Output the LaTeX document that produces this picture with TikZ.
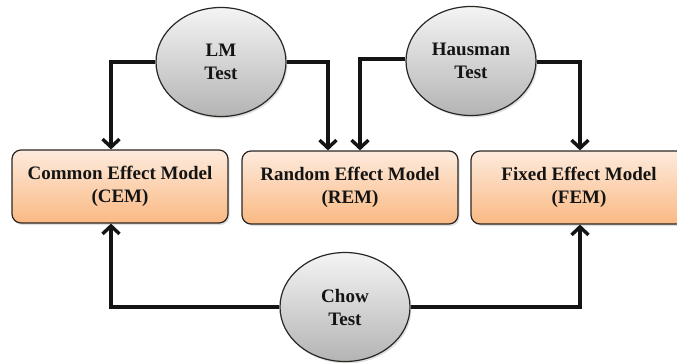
\documentclass[tikz,border=0pt]{standalone}
\usepackage{fontspec}
\setmainfont{Liberation Serif}
\usetikzlibrary{arrows.meta,shadows,shapes.geometric}

\definecolor{peachtop}{HTML}{FDEBDD}
\definecolor{peachbot}{HTML}{FAB983}
\definecolor{greytop}{HTML}{F4F4F4}
\definecolor{greybot}{HTML}{B4B4B4}
\definecolor{edge}{HTML}{2B2622}
\definecolor{ink}{HTML}{141414}

\tikzset{
  model/.style={rectangle, rounded corners=9pt, draw=edge, line width=1.2pt,
    top color=peachtop, bottom color=peachbot,
    minimum width=216pt, minimum height=73pt, inner sep=0pt,
    align=center, font=\bfseries\fontsize{19}{23}\selectfont, text=ink,
    drop shadow={shadow xshift=1.5pt, shadow yshift=-2pt, opacity=0.25}},
  testnode/.style={ellipse, draw=edge, line width=1.2pt,
    top color=greytop, bottom color=greybot,
    minimum width=130pt, minimum height=109pt, inner sep=0pt,
    align=center, font=\bfseries\fontsize{19}{23}\selectfont, text=ink,
    drop shadow={shadow xshift=1.5pt, shadow yshift=-2pt, opacity=0.25}},
  conn/.style={draw=ink, line width=3.4pt,
    -{Straight Barb[length=8pt,width=17pt]}}
}

\begin{document}
\begin{tikzpicture}[x=1pt,y=-1pt]
  \useasboundingbox (0,0) rectangle (677,362);

  % model boxes
  \node[model] (cem) at (120,186.5) {Common Effect Model\\(CEM)};
  \node[model] (rem) at (350,187.5) {Random Effect Model\\(REM)};
  \node[model] (fem) at (579,187.5) {Fixed Effect Model\\(FEM)};

  % tests
  \node[testnode] (lm) at (221,62) {LM\\Test};
  \node[testnode] (haus) at (471,61) {Hausman\\Test};
  \node[testnode] (chow) at (345,307) {Chow\\Test};

  % connectors from each test to the models it decides between
  \draw[conn] (lm.west) -| ([xshift=-9pt]cem.north);
  \draw[conn] (lm.east) -| ([xshift=-22pt]rem.north);
  \draw[conn] ([yshift=2pt]haus.west) -| ([xshift=10pt]rem.north);
  \draw[conn] ([yshift=-1pt]haus.east) -| ([xshift=1pt]fem.north);
  \draw[conn] (chow.west) -| ([xshift=-9pt]cem.south);
  \draw[conn] (chow.east) -| ([xshift=1pt]fem.south);
\end{tikzpicture}
\end{document}
